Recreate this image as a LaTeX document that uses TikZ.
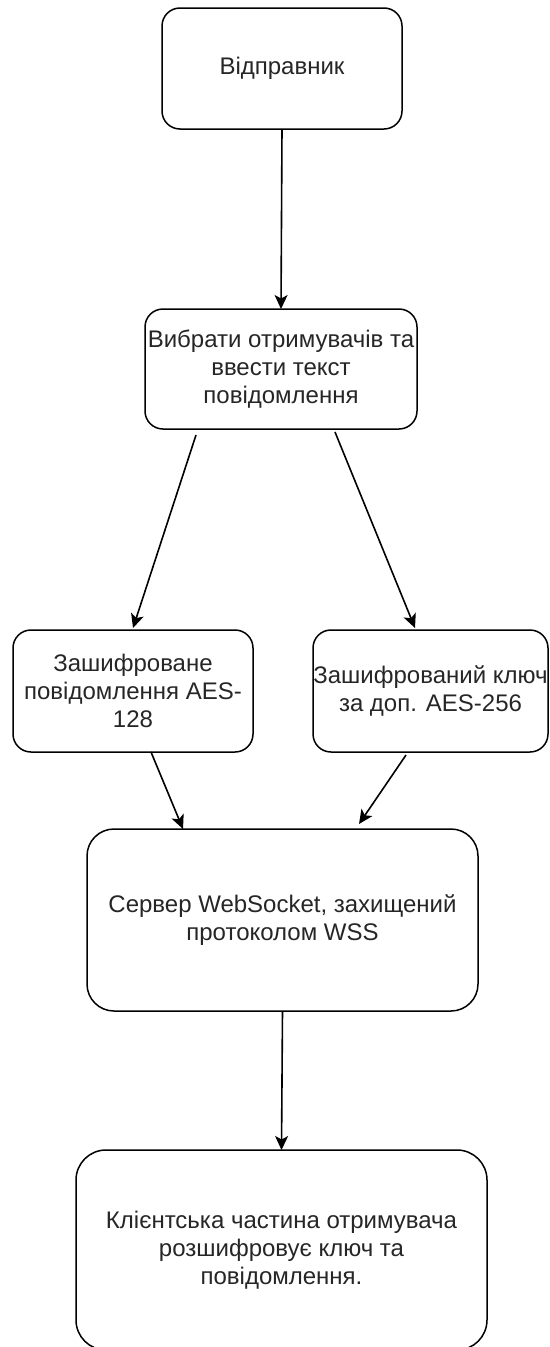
\documentclass[tikz,border=0pt]{standalone}
\usepackage{fontspec}
\setmainfont{Liberation Sans}
\usetikzlibrary{arrows.meta}
\begin{document}
\begin{tikzpicture}[x=1pt,y=-1pt,
  box/.style={draw=black,line width=1.5pt,fill=white,inner sep=0pt,outer sep=0pt,
    align=center,text=black!85,font=\fontsize{24}{28}\selectfont},
  arr/.style={draw=black,line width=1.6pt,-{Stealth[length=14pt,width=13pt,inset=3.5pt]}}]
\useasboundingbox[fill=white] (0,0) rectangle (549,1347);
% boxes
\node[box,rounded corners=18pt,minimum width=240pt,minimum height=121pt] (b1) at (282,68.5) {Відправник};
\node[box,rounded corners=18pt,minimum width=272pt,minimum height=120pt] (b2) at (281,369) {Вибрати отримувачів та\\ввести текст\\повідомлення};
\node[box,rounded corners=18pt,minimum width=240pt,minimum height=122pt] (b3) at (133,691) {Зашифроване\\повідомлення AES-\\128};
\node[box,rounded corners=18pt,minimum width=235pt,minimum height=122pt] (b4) at (430.5,691) {Зашифрований ключ\\за доп. AES-256};
\node[box,rounded corners=27pt,minimum width=391pt,minimum height=182pt] (b5) at (282.5,920) {Сервер WebSocket, захищений\\протоколом WSS};
\node[box,rounded corners=30pt,minimum width=411pt,minimum height=200pt] (b6) at (281.5,1250) {Клієнтська частина отримувача\\розшифровує ключ та\\повідомлення.};
% free connector ends
\coordinate (s2l) at (196,435);
\coordinate (e3) at (133,628);
\coordinate (s2r) at (335,432);
\coordinate (e4) at (415,628);
\coordinate (s3) at (151,752);
\coordinate (e5l) at (183,829);
\coordinate (s4) at (406,755);
\coordinate (e5r) at (359,824);
% connectors
\draw[arr] (b1.south) -- (b2.north);
\draw[arr] (s2l) -- (e3);
\draw[arr] (s2r) -- (e4);
\draw[arr] (s3) -- (e5l);
\draw[arr] (s4) -- (e5r);
\draw[arr] (b5.south) -- (b6.north);
\end{tikzpicture}
\end{document}
